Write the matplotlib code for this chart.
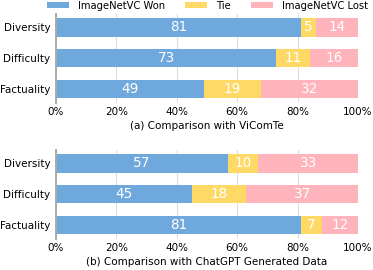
import numpy as np
import matplotlib
matplotlib.use("Agg")
import matplotlib.pyplot as plt

categories = ["Diversity", "Difficulty", "Factuality"]
series_names = ["ImageNetVC Won", "Tie", "ImageNetVC Lost"]
vicomte_won = [81, 73, 49]
vicomte_tie = [5, 11, 19]
vicomte_lost = [14, 16, 32]
chatgpt_won = [57, 45, 81]
chatgpt_tie = [10, 18, 7]
chatgpt_lost = [33, 37, 12]
titles = ["(a) Comparison with ViComTe",
          "(b) Comparison with ChatGPT Generated Data"]

colors = ["#6fa8dc", "#ffd966", "#ffb3ba"]

W, H = 373, 270
fig = plt.figure(figsize=(W / 100, H / 100), dpi=100)
# axes boxes in pixels: left, top, right, bottom
ax_a = fig.add_axes([56 / W, 1 - 103 / H, 302 / W, 89 / H])
ax_b = fig.add_axes([56 / W, 1 - 239 / H, 302 / W, 89 / H])

panels = [(ax_a, [vicomte_won, vicomte_tie, vicomte_lost], titles[0]),
          (ax_b, [chatgpt_won, chatgpt_tie, chatgpt_lost], titles[1])]

for ax, data, title in panels:
    y = np.arange(len(categories))[::-1]
    left = np.zeros(len(categories))
    for vals, c, name in zip(data, colors, series_names):
        vals = np.array(vals, dtype=float)
        ax.barh(y, vals, left=left, height=0.6, color=c, label=name, zorder=2)
        for yi, l, v in zip(y, left, vals):
            ax.text(l + v / 2, yi, f"{int(v)}", ha="center", va="center",
                    color="white", fontsize=9.8, zorder=3)
        left += vals
    ax.set_xlim(0, 100)
    ax.set_ylim(-0.45, 2.43)
    ax.set_yticks(y)
    ax.set_yticklabels(categories, fontsize=7.5)
    ax.set_xticks(np.arange(0, 101, 20))
    ax.set_xticklabels([f"{t}%" for t in range(0, 101, 20)], fontsize=7.5)
    ax.grid(axis="x", color="#dddddd", lw=0.8, zorder=0)
    for s in ["top", "right", "bottom"]:
        ax.spines[s].set_visible(False)
    ax.spines["left"].set_color("#aaaaaa")
    ax.spines["left"].set_linewidth(1.4)
    ax.tick_params(axis="x", length=0, pad=3)
    ax.tick_params(axis="y", length=0, pad=4)
    ax.set_xlabel(title, fontsize=7.5, labelpad=3)

handles, labels = ax_a.get_legend_handles_labels()
fig.legend(handles, labels, loc="upper center", bbox_to_anchor=(0.556, 0.998),
           ncol=3, frameon=False, fontsize=7.2, handlelength=2.2,
           handleheight=0.5, columnspacing=2.0, handletextpad=0.9,
           borderpad=0, borderaxespad=0)

fig.savefig("out.png", dpi=100)
